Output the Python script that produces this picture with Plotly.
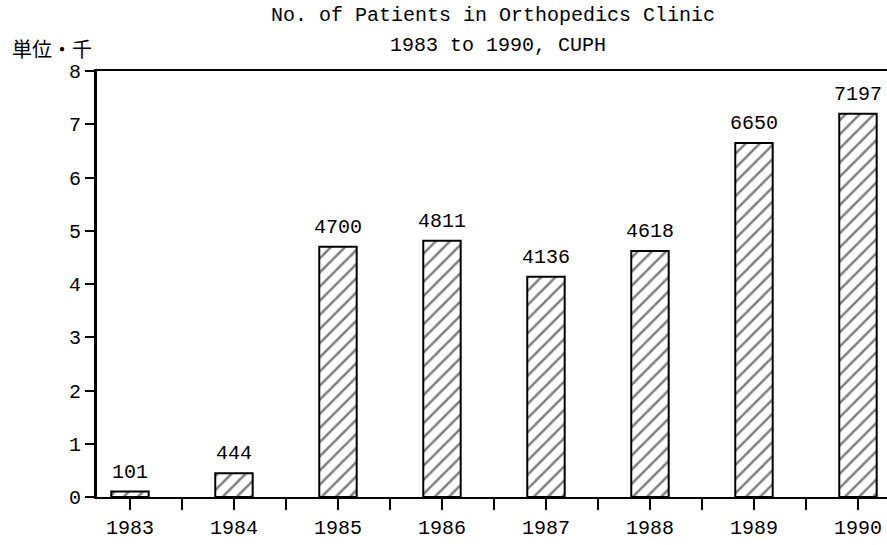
import plotly.graph_objects as go

# Data
years = [1983, 1984, 1985, 1986, 1987, 1988, 1989, 1990]
patients = [101, 444, 4700, 4811, 4136, 4618, 6650, 7197]
y_ticks = [0, 1, 2, 3, 4, 5, 6, 7, 8]

title_line1 = "No. of Patients in Orthopedics Clinic"
title_line2 = "1983 to 1990, CUPH"
unit_label = "単位・千"

MONO = "Liberation Mono, DejaVu Sans Mono, monospace"
CJK = "Noto Sans CJK JP, Noto Sans CJK SC, sans-serif"

values_k = [v / 1000 for v in patients]

fig = go.Figure()

fig.add_trace(go.Bar(
    x=years,
    y=values_k,
    width=0.36,
    marker=dict(
        color="white",
        line=dict(color="black", width=2),
        pattern=dict(shape="/", fgcolor="black", bgcolor="white",
                     size=10, solidity=0.25),
    ),
    showlegend=False,
    hoverinfo="skip",
))

# value labels above each bar
for yr, v, raw in zip(years, values_k, patients):
    fig.add_annotation(
        x=yr, y=v, text=str(raw), showarrow=False,
        xref="x", yref="y", yanchor="bottom", yshift=6,
        font=dict(family=MONO, size=20, color="black"),
    )

# plot area: 97px from the left, 798px wide (runs a little past the window)
PW = 798

# title lines and unit label
fig.add_annotation(
    text=title_line1, xref="paper", yref="paper",
    x=(493 - 97) / PW, y=(497 - 15) / 426, xanchor="center", yanchor="middle",
    showarrow=False, font=dict(family=MONO, size=20, color="black"),
)
fig.add_annotation(
    text=title_line2, xref="paper", yref="paper",
    x=(498 - 97) / PW, y=(497 - 45) / 426, xanchor="center", yanchor="middle",
    showarrow=False, font=dict(family=MONO, size=20, color="black"),
)
fig.add_annotation(
    text=unit_label, xref="paper", yref="paper",
    x=(10 - 97) / PW, y=(497 - 49) / 426, xanchor="left", yanchor="middle",
    showarrow=False, font=dict(family=CJK, size=20, color="black"),
)

fig.update_layout(
    width=97 + PW,
    height=545,
    margin=dict(l=97, r=0, t=71, b=48),
    plot_bgcolor="white",
    paper_bgcolor="white",
    font=dict(family=MONO, size=20, color="black"),
)

fig.update_xaxes(
    range=[1982.683, 1982.683 + PW / 104],
    tickmode="array",
    tickvals=years,
    ticktext=[str(y) for y in years],
    ticks="outside", ticklen=11, tickwidth=2, tickcolor="black",
    minor=dict(tickmode="array", tickvals=[y + 0.5 for y in years[:-1]],
               ticks="outside", ticklen=11, tickwidth=2, tickcolor="black"),
    showline=True, linewidth=2, linecolor="black", mirror=True,
    showgrid=False, zeroline=False,
    tickfont=dict(family=MONO, size=20, color="black"),
)

fig.update_yaxes(
    range=[0, 8],
    tickmode="array",
    tickvals=y_ticks,
    ticktext=[str(t) for t in y_ticks],
    ticks="outside", ticklen=9, tickwidth=1.5, tickcolor="black",
    showline=True, linewidth=3, linecolor="black", mirror=False,
    showgrid=False, zeroline=False,
    tickfont=dict(family=MONO, size=20, color="black"),
)

# drop the browser's default body margin and the scrollbars
fig.write_html(
    "out.html", config={"displayModeBar": False},
    post_script="document.body.style.margin='0';"
                "document.body.style.overflow='hidden';",
)
